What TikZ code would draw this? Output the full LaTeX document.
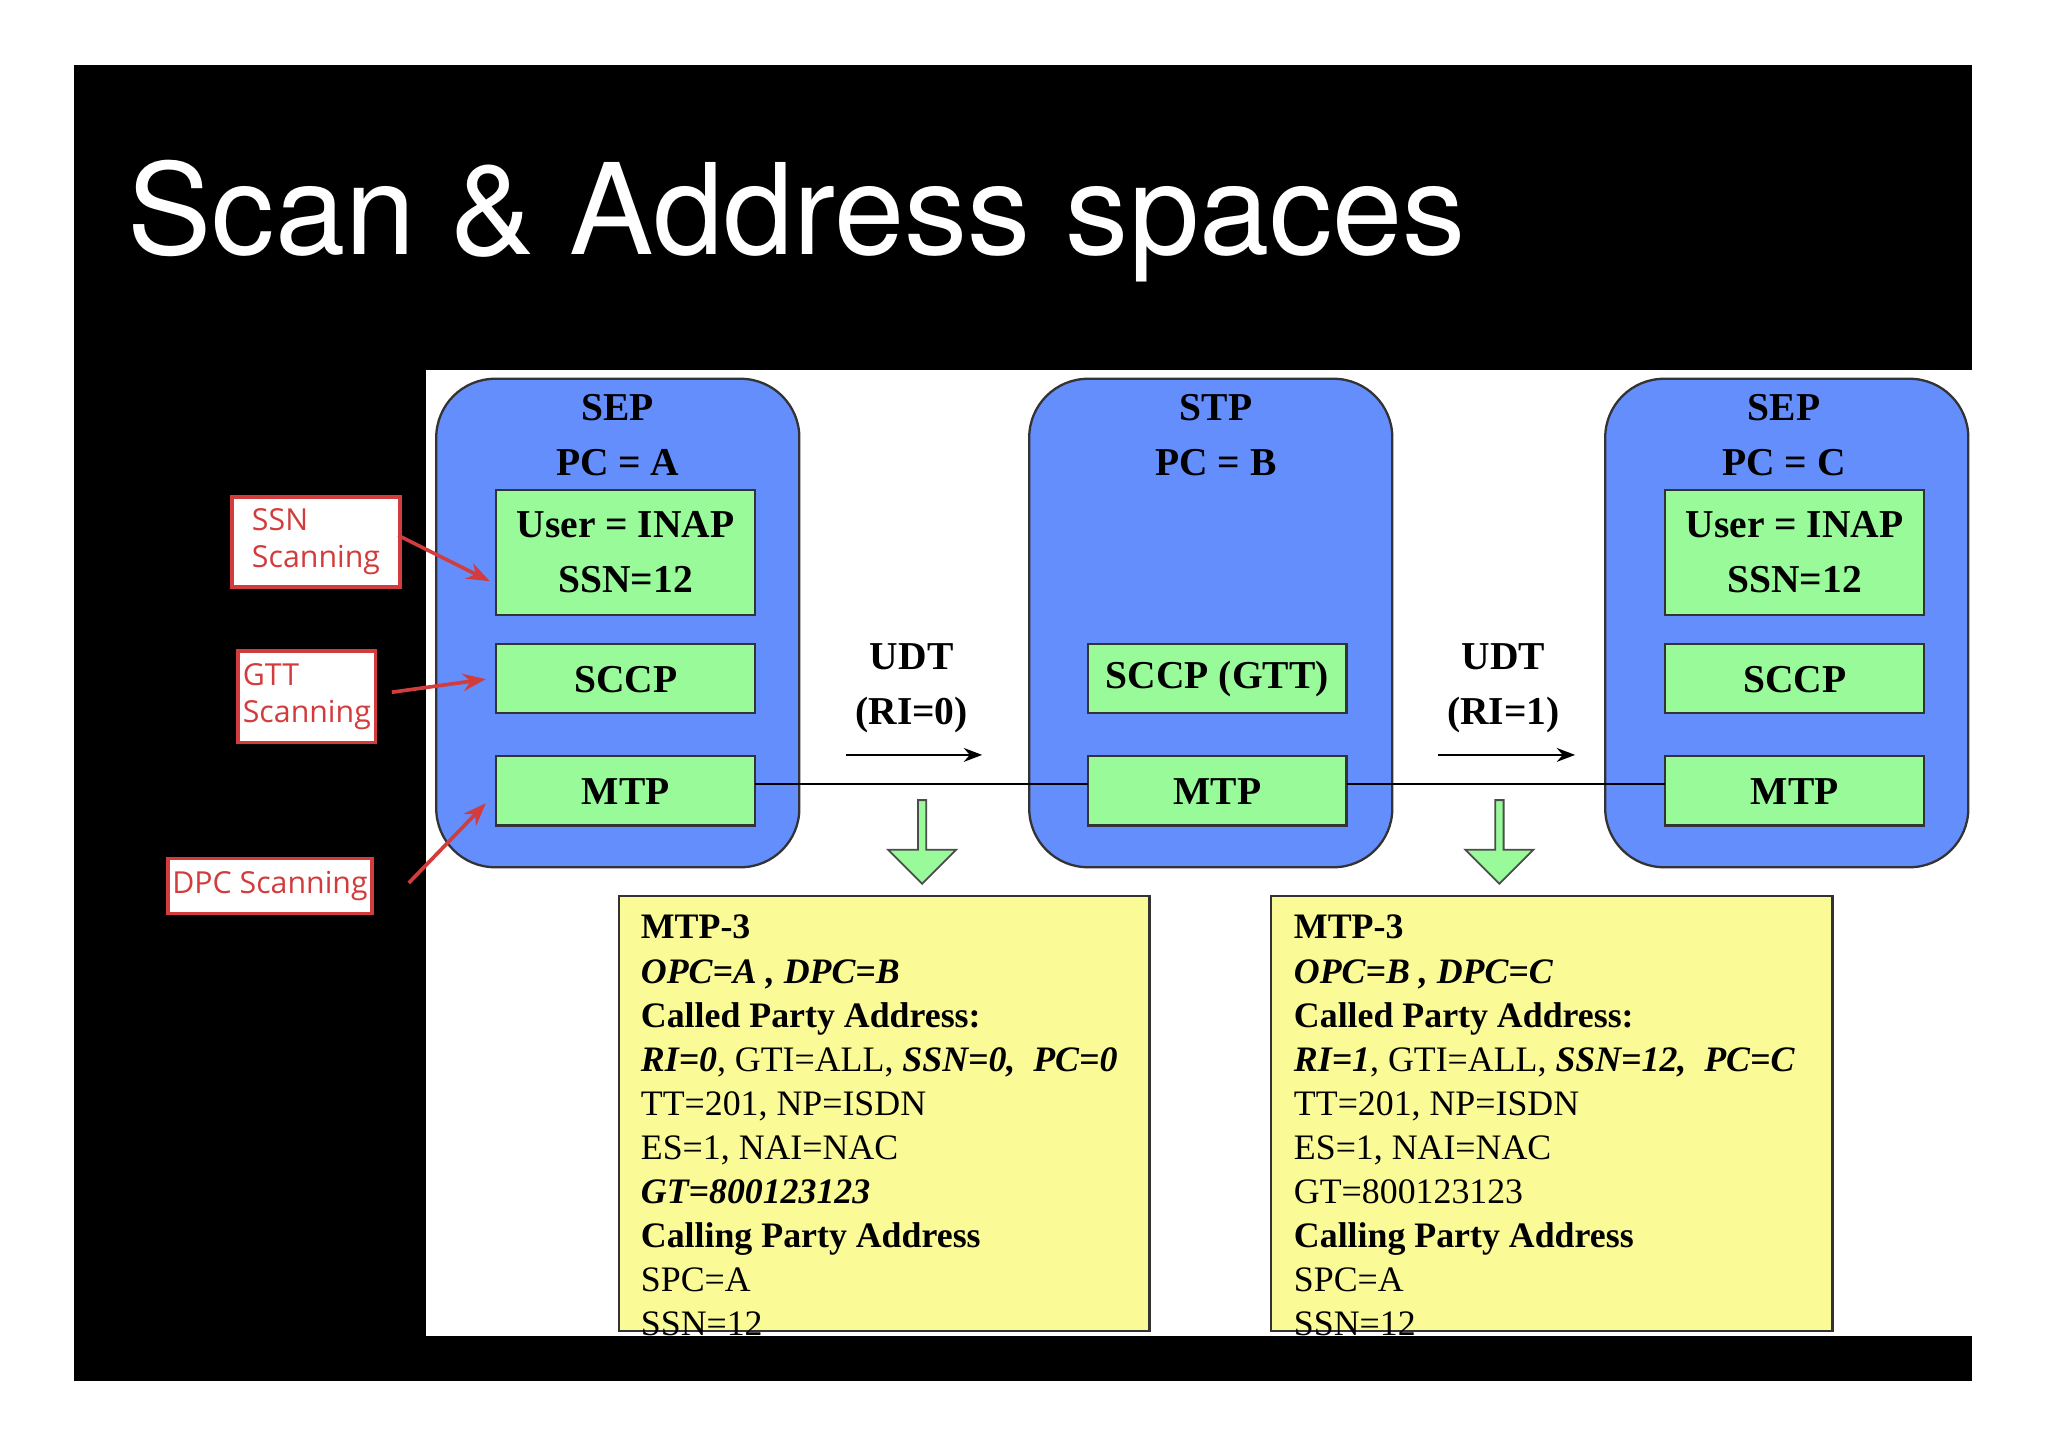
\documentclass[tikz,border=0pt]{standalone}
\usepackage{fontspec}
\setmainfont{Liberation Serif}
\newfontfamily\titlef{TeX Gyre Heros}
\newfontfamily\lblf{Open Sans}
\usetikzlibrary{arrows.meta,shapes.arrows}
\definecolor{bl}{RGB}{100,142,252}
\definecolor{gr}{RGB}{152,250,152}
\definecolor{yl}{RGB}{250,250,150}
\definecolor{rd}{RGB}{210,60,60}
\begin{document}
\begin{tikzpicture}[x=0.01cm,y=-0.01cm,
 blue/.style={draw=black!80,line width=0.5pt,fill=bl,rounded corners=0.45cm},
 green/.style={draw=black!80,line width=0.5pt,fill=gr},
 gt/.style={font=\fontsize{8.6}{10}\selectfont\bfseries,align=center},
 yel/.style={draw=black!80,line width=0.5pt,fill=yl},
 lbl/.style={draw=rd,line width=0.8pt,fill=white,text=rd,font=\lblf\fontsize{6.6}{8}\selectfont,align=left,inner sep=1pt},
 rar/.style={rd,line width=0.8pt,-{Stealth[length=5pt]}}]
\useasboundingbox (0,0) rectangle (1568,1107);
\fill[black] (57,50) rectangle (1510,1057);
\fill[white] (326,283) rectangle (1510,1023);
\node[anchor=base west,text=white,font=\titlef\fontsize{27.5}{30}\selectfont,inner sep=0] (title) at (97,195) {Scan \& Address spaces};
% blue
\draw[blue] (334,290) rectangle (612,664);
\draw[blue] (788,290) rectangle (1066,664);
\draw[blue] (1229,290) rectangle (1507,664);
\node[gt] (s1) at (473,333) {SEP\\[2pt]PC = A};
\node[gt] (s2) at (931,333) {STP\\[2pt]PC = B};
\node[gt] (s3) at (1366,333) {SEP\\[2pt]PC = C};
% green
\draw[green] (380,375) rectangle (578,471); \node[gt] (u1) at (479,423) {User = INAP\\[2pt]SSN=12};
\draw[green] (380,493) rectangle (578,546); \node[gt] (c1) at (479,520) {SCCP};
\draw[green] (380,579) rectangle (578,632); \node[gt] (m1) at (479,606) {MTP};
\draw[green] (833,493) rectangle (1031,546); \node[gt] (c2) at (932,520) {SCCP (GTT)};
\draw[green] (833,579) rectangle (1031,632); \node[gt] (m2) at (932,606) {MTP};
\draw[green] (1275,375) rectangle (1473,471); \node[gt] (u3) at (1374,423) {User = INAP\\[2pt]SSN=12};
\draw[green] (1275,493) rectangle (1473,546); \node[gt] (c3) at (1374,520) {SCCP};
\draw[green] (1275,579) rectangle (1473,632); \node[gt] (m3) at (1374,606) {MTP};
\coordinate (l1a) at (578,600); \coordinate (l1b) at (833,600);
\coordinate (l2a) at (1031,600); \coordinate (l2b) at (1275,600);
\draw[line width=0.5pt] (l1a) -- (l1b); \draw[line width=0.5pt] (l2a) -- (l2b);
% UDT
\node[gt] (udt1) at (698,527) {UDT\\[2pt](RI=0)};
\node[gt] (udt2) at (1151,527) {UDT\\[2pt](RI=1)};
\coordinate (a1s) at (648,578); \coordinate (a1e) at (752,578);
\coordinate (a2s) at (1101,578); \coordinate (a2e) at (1206,578);
\draw[line width=0.6pt,-{Stealth[length=4pt]}] (a1s) -- (a1e);
\draw[line width=0.6pt,-{Stealth[length=4pt]}] (a2s) -- (a2e);
% down arrows
\node[single arrow,draw=black!70,fill=gr,shape border rotate=270,minimum height=0.64cm,minimum width=0.52cm,single arrow head extend=0.05cm,inner sep=0pt] (d1) at (706,643) {};
\node[single arrow,draw=black!70,fill=gr,shape border rotate=270,minimum height=0.64cm,minimum width=0.52cm,single arrow head extend=0.05cm,inner sep=0pt] (d2) at (1148,643) {};
% yellow
\draw[yel] (474,686) rectangle (880,1019);
\draw[yel] (973,686) rectangle (1403,1019);
\node[anchor=north west,align=left,font=\fontsize{7.8}{9}\selectfont,inner sep=0] (y1) at (490,700) {%
\textbf{MTP-3}\\[0.6pt]
\textbf{\textit{OPC=A , DPC=B}}\\[0.6pt]
\textbf{Called Party Address:}\\[0.6pt]
\textbf{\textit{RI=0}}, GTI=ALL, \textbf{\textit{SSN=0,\ \ PC=0}}\\[0.6pt]
TT=201, NP=ISDN\\[0.6pt]
ES=1, NAI=NAC\\[0.6pt]
\textbf{\textit{GT=800123123}}\\[0.6pt]
\textbf{Calling Party Address}\\[0.6pt]
SPC=A\\[0.6pt]
SSN=12};
\node[anchor=north west,align=left,font=\fontsize{7.8}{9}\selectfont,inner sep=0] (y2) at (990,700) {%
\textbf{MTP-3}\\[0.6pt]
\textbf{\textit{OPC=B , DPC=C}}\\[0.6pt]
\textbf{Called Party Address:}\\[0.6pt]
\textbf{\textit{RI=1}}, GTI=ALL, \textbf{\textit{SSN=12,\ \ PC=C}}\\[0.6pt]
TT=201, NP=ISDN\\[0.6pt]
ES=1, NAI=NAC\\[0.6pt]
GT=800123123\\[0.6pt]
\textbf{Calling Party Address}\\[0.6pt]
SPC=A\\[0.6pt]
SSN=12};
% red labels
\node[lbl,anchor=north west,minimum width=1.29cm,minimum height=0.69cm] (ssn) at (176,379) {SSN\\Scanning};
\node[lbl,anchor=north west,minimum width=1.05cm,minimum height=0.70cm] (gtt) at (181,497) {GTT\\Scanning};
\node[lbl,anchor=north west,minimum width=1.55cm,minimum height=0.42cm] (dpc) at (127,656) {DPC Scanning};
\coordinate (r1) at (375,445); \coordinate (r2) at (372,520); \coordinate (r3) at (372,615);
\draw[rar] (305,410) -- (r1);
\draw[rar] (300,530) -- (r2);
\draw[rar] (313,676) -- (r3);
\end{tikzpicture}
\end{document}
